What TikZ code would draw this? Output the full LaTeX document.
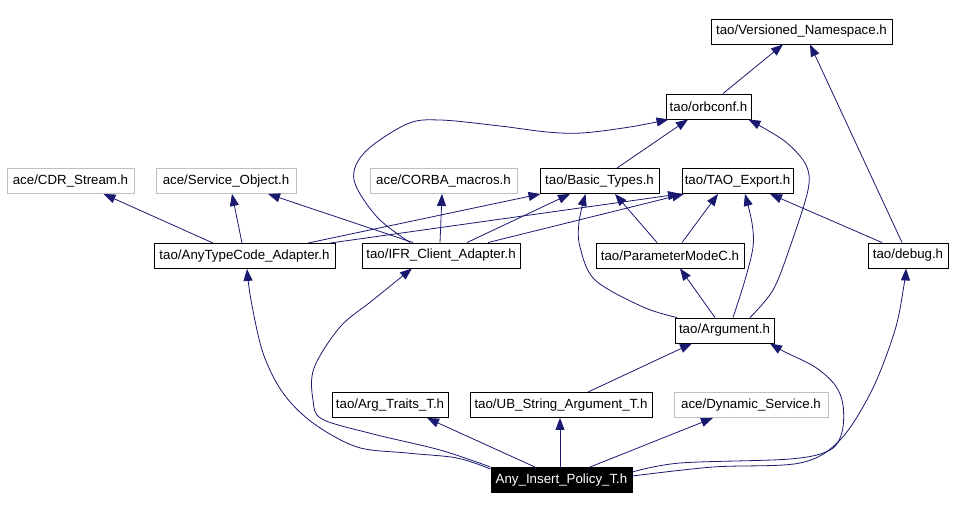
\documentclass[tikz,border=0pt]{standalone}
\usepackage{fontspec}
\setmainfont{Liberation Sans}
\usetikzlibrary{arrows.meta}
\definecolor{edgec}{HTML}{191970}
\definecolor{grayb}{HTML}{BFBFBF}
\begin{document}
\begin{tikzpicture}[x=1pt,y=-1pt,
  box/.style={draw=black, line width=0.9pt, minimum height=25pt, inner sep=0pt, font=\fontsize{13.3}{15}\selectfont, anchor=center},
  gbox/.style={box, draw=grayb},
  edge/.style={draw=edgec, line width=0.8pt, -{Triangle[length=12pt,width=9pt]}},
  sm/.style={smooth, tension=0.55}
]
\useasboundingbox (0,0) rectangle (955,510);
% nodes
\node[box, minimum width=181pt] (VN) at (801.5,31.5) {tao/Versioned\_Namespace.h};
\node[box, minimum width=85pt] (orb) at (708.5,106.5) {tao/orbconf.h};
\node[gbox, minimum width=127pt] (CDR) at (70.5,181) {ace/CDR\_Stream.h};
\node[gbox, minimum width=140pt] (SO) at (226,181) {ace/Service\_Object.h};
\node[gbox, minimum width=147pt] (CM) at (443.5,181) {ace/CORBA\_macros.h};
\node[box, minimum width=119pt] (BT) at (599.5,181) {tao/Basic\_Types.h};
\node[box, minimum width=111pt] (TE) at (737.5,181) {tao/TAO\_Export.h};
\node[box, minimum width=181pt] (ATC) at (244.5,256) {tao/AnyTypeCode\_Adapter.h};
\node[box, minimum width=158pt] (IFR) at (441,255.5) {tao/IFR\_Client\_Adapter.h};
\node[box, minimum width=148pt] (PMC) at (670,255.5) {tao/ParameterModeC.h};
\node[box, minimum width=80pt] (DBG) at (908,255.5) {tao/debug.h};
\node[box, minimum width=99pt] (ARG) at (724.5,330.5) {tao/Argument.h};
\node[box, minimum width=116pt] (AT) at (390,405) {tao/Arg\_Traits\_T.h};
\node[box, minimum width=182pt] (UB) at (561,405) {tao/UB\_String\_Argument\_T.h};
\node[gbox, minimum width=154pt] (DS) at (751,405) {ace/Dynamic\_Service.h};
\node[box, fill=black, text=white, minimum width=141pt] (AIP) at (561.5,480) {Any\_Insert\_Policy\_T.h};
% straight edges
\draw[edge] ([xshift=14.5pt]orb.north) -- ([xshift=-18.5pt]VN.south);
\draw[edge] ([xshift=-6pt]DBG.north) -- ([xshift=8.5pt]VN.south);
\draw[edge] ([xshift=17.5pt]BT.north) -- ([xshift=-20.5pt]orb.south);
\draw[edge] ([xshift=-31.5pt]ATC.north) -- ([xshift=33pt]CDR.south);
\draw[edge] ([xshift=-2.5pt]ATC.north) -- ([xshift=6pt]SO.south);
\draw[edge] ([xshift=-28pt]IFR.north) -- ([xshift=42pt]SO.south);
\draw[edge] ([xshift=-1pt]IFR.north) -- ([xshift=-1.5pt]CM.south);
\draw[edge] ([xshift=63.5pt]ATC.north) -- ([xshift=-59pt]BT.south);
\draw[edge] ([xshift=26pt]IFR.north) -- ([xshift=-29.5pt]BT.south);
\draw[edge] ([xshift=85.5pt]ATC.north) -- ([xshift=-57.5pt]TE.south);
\draw[edge] ([xshift=47pt]IFR.north) -- ([xshift=-53.5pt]TE.south);
\draw[edge] ([xshift=-13pt]PMC.north) -- ([xshift=15.5pt]BT.south);
\draw[edge] ([xshift=12pt]PMC.north) -- ([xshift=-19.5pt]TE.south);
\draw[edge] ([xshift=-9.5pt]ARG.north) -- ([xshift=10pt]PMC.south);
\draw[edge] ([xshift=-26pt]DBG.north) -- ([xshift=32.5pt]TE.south);
\draw[edge] ([xshift=-26.5pt]AIP.north) -- ([xshift=37pt]AT.south);
\draw[edge] ([xshift=-1.5pt]AIP.north) -- ([xshift=-1pt]UB.south);
\draw[edge] ([xshift=28.5pt]AIP.north) -- ([xshift=-38pt]DS.south);
\draw[edge] ([xshift=27pt]UB.north) -- ([xshift=-32.5pt]ARG.south);
% curved edges
\draw[edge] plot[sm] coordinates {([xshift=-31pt]IFR.north) (377,217) (354,180) (365,152) (407,124) (440,120) (500,126) (547,132) (582,133) (630,127) ([xshift=-40pt]orb.south)};
\draw[edge] plot[sm] coordinates {([xshift=25.5pt]ARG.north) (773,290) (790,247) (808,190) (806,165) (787,143) (762,127) ([xshift=40pt]orb.south)};
\draw[edge] plot[sm] coordinates {([xshift=-47.5pt]ARG.north) (643,307) (595,280) (580,247) (579,222) ([xshift=-14pt]BT.south)};
\draw[edge] plot[sm] coordinates {([xshift=8.5pt]ARG.north) (745,280) (753,247) (752,223) ([xshift=7.5pt]TE.south)};
\draw[edge] plot[sm] coordinates {([yshift=-2pt]AIP.north west) (457,458) (407,453) (357,447) (313,423) (283,393) (263,353) (251,300) ([xshift=2.5pt]ATC.south)};
\draw[edge] plot[sm] coordinates {(AIP.north west) (440,450) (373,434) (322,419) (313,400) (314,368) (340,327) (373,300) ([xshift=-29pt]IFR.south)};
\draw[edge] plot[sm] coordinates {([yshift=8pt]AIP.east) (680,463) (790,459) (830,450) (842,432) (843,405) (835,385) (815,367) (785,352) ([xshift=45.5pt]ARG.south)};
\draw[edge] plot[sm] coordinates {([yshift=4pt]AIP.east) (713,467) (800,463) (840,440) (872,390) (895,330) (904,285) ([xshift=-2pt]DBG.south)};
\end{tikzpicture}
\end{document}
